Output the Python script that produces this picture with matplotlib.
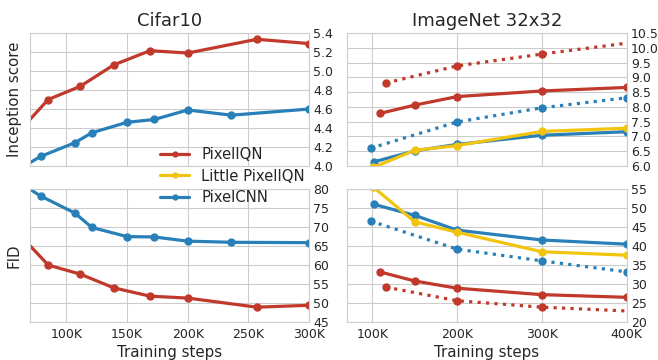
import numpy as np
import matplotlib.pyplot as plt
import seaborn as sns
from matplotlib.ticker import FuncFormatter, MultipleLocator

sns.set_style('whitegrid')
plt.rcParams['font.family'] = ['DejaVu Sans']

RED = '#c0392b'
YELLOW = '#f1c40f'
BLUE = '#2980b9'

# Cifar10 data (training steps in thousands)
cifar_iqn_steps = [60, 85, 111.5, 139, 169, 200, 257, 300]
cifar_iqn_is = [4.35, 4.70, 4.84, 5.065, 5.215, 5.19, 5.335, 5.29]
cifar_iqn_fid = [68.5, 60.0, 57.6, 54.0, 51.8, 51.3, 48.9, 49.4]

cifar_cnn_steps = [60, 78.7, 107, 121, 150, 172.5, 200, 236, 300]
cifar_cnn_is = [3.96, 4.10, 4.245, 4.35, 4.46, 4.49, 4.59, 4.535, 4.60]
cifar_cnn_fid = [82.0, 78.2, 73.7, 69.9, 67.5, 67.4, 66.3, 66.0, 65.9]

# ImageNet 32x32 data
in_iqn_steps = [109, 150, 200, 300, 400]
in_iqn_is = [7.78, 8.06, 8.35, 8.54, 8.66]
in_iqn_fid = [33.2, 30.8, 28.9, 27.2, 26.5]

in_iqn2_steps = [116, 200, 300, 500]
in_iqn2_is = [8.81, 9.39, 9.79, 10.53]
in_iqn2_fid = [29.2, 25.6, 23.9, 21.9]

in_little_steps = [101, 150, 200, 300, 400]
in_little_is = [5.95, 6.53, 6.69, 7.17, 7.28]
in_little_fid = [55.6, 46.4, 43.65, 38.5, 37.6]

in_cnn_steps = [102, 150, 200, 300, 400]
in_cnn_is = [6.14, 6.51, 6.73, 7.04, 7.16]
in_cnn_fid = [51.0, 48.1, 44.2, 41.6, 40.5]

in_cnn2_steps = [98, 200, 300, 400]
in_cnn2_is = [6.60, 7.49, 7.97, 8.31]
in_cnn2_fid = [46.6, 39.2, 36.1, 33.2]

fig = plt.figure(figsize=(6.58, 3.6), dpi=100)
ax1 = fig.add_axes([0.0456, 0.539, 0.424, 0.369])
ax2 = fig.add_axes([0.527, 0.539, 0.4255, 0.369])
ax3 = fig.add_axes([0.0456, 0.1056, 0.424, 0.369])
ax4 = fig.add_axes([0.527, 0.1056, 0.4255, 0.369])

lw = 2.3
ms = 5
solid = dict(linestyle='-', linewidth=lw, marker='o', markersize=ms)
dotted = dict(linestyle=':', linewidth=lw, marker='o', markersize=ms)

ax1.plot(cifar_iqn_steps, cifar_iqn_is, color=RED, label='PixelIQN', **solid)
ax1.plot([], [], color=YELLOW, label='Little PixelIQN', **solid)
ax1.plot(cifar_cnn_steps, cifar_cnn_is, color=BLUE, label='PixelCNN', **solid)

ax3.plot(cifar_iqn_steps, cifar_iqn_fid, color=RED, **solid)
ax3.plot(cifar_cnn_steps, cifar_cnn_fid, color=BLUE, **solid)

ax2.plot(in_iqn2_steps, in_iqn2_is, color=RED, markevery=[0, 1, 2], **dotted)
ax2.plot(in_cnn2_steps, in_cnn2_is, color=BLUE, **dotted)
ax2.plot(in_cnn_steps, in_cnn_is, color=BLUE, **solid)
ax2.plot(in_little_steps, in_little_is, color=YELLOW, **solid)
ax2.plot(in_iqn_steps, in_iqn_is, color=RED, **solid)

ax4.plot(in_iqn2_steps, in_iqn2_fid, color=RED, markevery=[0, 1, 2], **dotted)
ax4.plot(in_cnn2_steps, in_cnn2_fid, color=BLUE, **dotted)
ax4.plot(in_cnn_steps, in_cnn_fid, color=BLUE, **solid)
ax4.plot(in_little_steps, in_little_fid, color=YELLOW, **solid)
ax4.plot(in_iqn_steps, in_iqn_fid, color=RED, **solid)

kfmt = FuncFormatter(lambda v, p: '%dK' % v)

ax1.set_xlim(70, 300)
ax3.set_xlim(70, 300)
ax2.set_xlim(70, 400)
ax4.set_xlim(70, 400)
for ax in [ax1, ax3]:
    ax.xaxis.set_major_locator(MultipleLocator(50))
for ax in [ax2, ax4]:
    ax.xaxis.set_major_locator(MultipleLocator(100))

ax1.set_ylim(4.0, 5.4)
ax1.yaxis.set_major_locator(MultipleLocator(0.2))
ax2.set_ylim(6.0, 10.5)
ax2.yaxis.set_major_locator(MultipleLocator(0.5))
ax3.set_ylim(45, 80)
ax3.yaxis.set_major_locator(MultipleLocator(5))
ax4.set_ylim(20, 55)
ax4.yaxis.set_major_locator(MultipleLocator(5))

for ax in [ax1, ax2, ax3, ax4]:
    ax.yaxis.tick_right()
    ax.tick_params(axis='both', labelsize=9, length=0, colors='#262626')
    ax.tick_params(axis='y', pad=3)
    ax.tick_params(axis='x', pad=4)
    ax.xaxis.set_major_formatter(kfmt)
for ax in [ax1, ax2]:
    ax.tick_params(axis='x', labelbottom=False)

ax1.set_title('Cifar10', fontsize=13, pad=5)
ax2.set_title('ImageNet 32x32', fontsize=13, pad=5)
ax1.set_ylabel('Inception score', fontsize=10.8, labelpad=6)
ax3.set_ylabel('FID', fontsize=10.8, labelpad=6)
ax3.set_xlabel('Training steps', fontsize=10.8, labelpad=3)
ax4.set_xlabel('Training steps', fontsize=10.8, labelpad=3)

h, l = ax1.get_legend_handles_labels()
fig.legend(h, l, loc='center', bbox_to_anchor=(0.353, 0.511), fontsize=10.7,
           frameon=False, markerscale=0.7, labelspacing=0.45)

plt.savefig('out.png', dpi=100)
